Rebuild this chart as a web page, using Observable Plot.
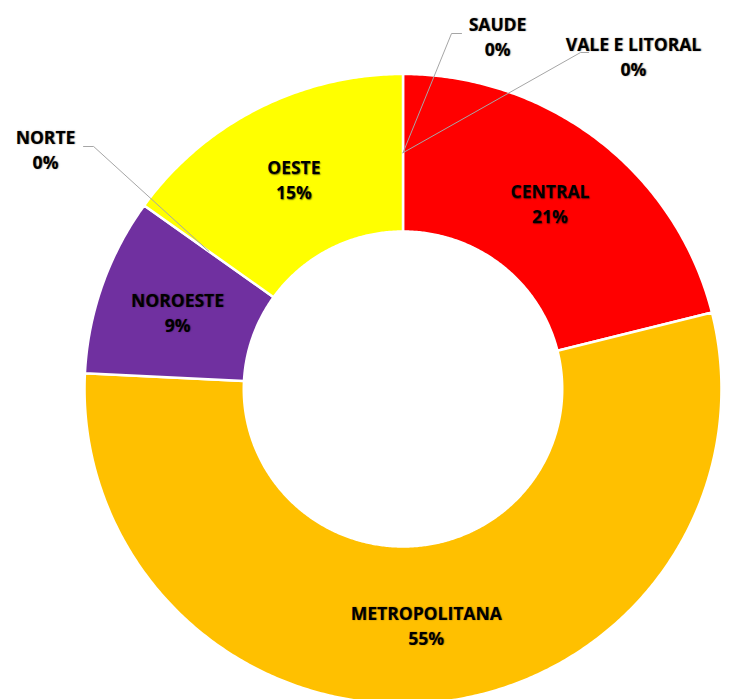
<!DOCTYPE html>
<html>
<head>
<meta charset="utf-8">
<script src="https://cdn.jsdelivr.net/npm/d3@7"></script>
<script src="https://cdn.jsdelivr.net/npm/@observablehq/plot@0.6"></script>
<style>
  html, body { margin: 0; padding: 0; background: #ffffff; }
  #chart svg { display: block; }
  #chart svg text { text-shadow: 0.7px 0.7px 1.3px rgba(0,0,0,0.55); }
</style>
</head>
<body>
<div id="chart"></div>
<script>
// ---- data ----
const regions = ["CENTRAL", "METROPOLITANA", "NOROESTE", "NORTE", "OESTE", "SAUDE", "VALE E LITORAL"];
const shares = [21.1, 54.7, 9.1, 0, 15.1, 0, 0];
const pctLabels = ["21%", "55%", "9%", "0%", "15%", "0%", "0%"];
const sliceColors = ["#FF0000", "#FFC000", "#7030A0", "#4472C4", "#FFFF00", "#70AD47", "#00B0F0"];

// ---- layout (chart geometry, not data) ----
const W = 732, H = 699;
const CX = 402.5, CY = 388.5, XSTRETCH = 1.011;
const R_OUT = 315, R_IN = 157.5, R_LABEL = (R_OUT + R_IN) / 2;
// outside label placement for the tiny slices (label center, leader elbow)
const outsideLayout = {
  "SAUDE":          { lx: 93.5,   ly: 354, ex: [57.9, 48],    ey: 355.5 },
  "VALE E LITORAL": { lx: 228,    ly: 334, ex: [183.5, 175.6], ey: 336.5 },
  "NORTE":          { lx: -353.6, ly: 241, ex: [-316, -306],  ey: 242.5 }
};

const rows = regions.map((name, i) => ({ name, share: shares[i], pct: pctLabels[i], color: sliceColors[i] }));
const arcs = d3.pie().sort(null).value(d => d.share)(rows);

const polar = (r, a) => [r * Math.sin(a), r * Math.cos(a)];

// slice polygons
const polyPts = [];
arcs.filter(a => a.data.share > 0).forEach(a => {
  const n = Math.max(2, Math.ceil((a.endAngle - a.startAngle) / (Math.PI / 360)));
  const pts = [];
  for (let k = 0; k <= n; k++) pts.push(polar(R_OUT, a.startAngle + (a.endAngle - a.startAngle) * k / n));
  for (let k = n; k >= 0; k--) pts.push(polar(R_IN, a.startAngle + (a.endAngle - a.startAngle) * k / n));
  pts.push(pts[0]);
  pts.forEach(([x, y]) => polyPts.push({ name: a.data.name, x, y }));
});

// labels
const inside = arcs.filter(a => !outsideLayout[a.data.name]).map(a => {
  const [x, y] = polar(R_LABEL, (a.startAngle + a.endAngle) / 2);
  return { x, y, text: a.data.name + "\n" + a.data.pct };
});
const outside = arcs.filter(a => outsideLayout[a.data.name]).map(a => {
  const L = outsideLayout[a.data.name];
  return { x: L.lx, y: L.ly, text: a.data.name + "\n" + a.data.pct };
});
const leaders = [];
arcs.filter(a => outsideLayout[a.data.name]).forEach(a => {
  const L = outsideLayout[a.data.name];
  const [ax, ay] = polar(R_LABEL, (a.startAngle + a.endAngle) / 2);
  leaders.push({ name: a.data.name, x: L.ex[0], y: L.ey });
  leaders.push({ name: a.data.name, x: L.ex[1], y: L.ey });
  leaders.push({ name: a.data.name, x: ax, y: ay });
});

const font = "'Open Sans', 'Noto Sans', 'Liberation Sans', sans-serif";
const textOpts = { x: "x", y: "y", text: "text", fontSize: 17.5, fontWeight: "bold", fill: "#000000", lineHeight: 1.43, lineAnchor: "middle" };

const chart = Plot.plot({
  width: W,
  height: H,
  margin: 0,
  x: { domain: [-CX / XSTRETCH, (W - CX) / XSTRETCH], axis: null },
  y: { domain: [-(H - CY), CY], axis: null },
  color: { domain: regions, range: sliceColors },
  style: { fontFamily: font, background: "#ffffff", overflow: "hidden" },
  marks: [
    Plot.line(polyPts, { x: "x", y: "y", z: "name", fill: "name", stroke: "#ffffff", strokeWidth: 2.5, curve: "linear" }),
    Plot.line(leaders, { x: "x", y: "y", z: "name", stroke: "#A6A6A6", strokeWidth: 1 }),
    Plot.text(inside, textOpts),
    Plot.text(outside, textOpts)
  ]
});
document.getElementById("chart").appendChild(chart);
</script>
</body>
</html>
